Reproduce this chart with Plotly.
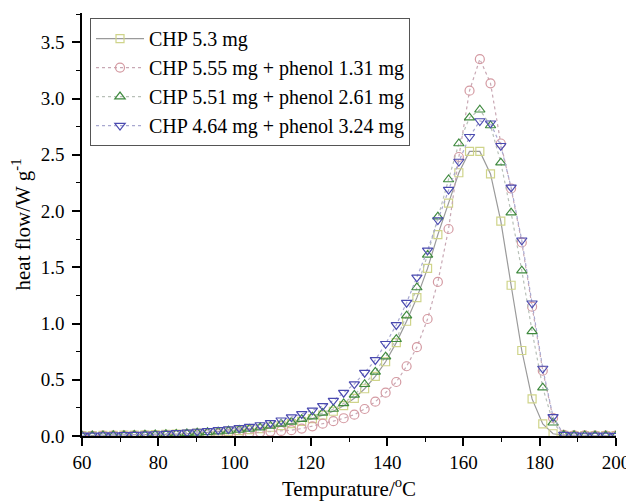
import plotly.graph_objects as go

temperature = [60.0, 62.7, 65.5, 68.2, 71.0, 73.7, 76.5, 79.2, 82.0, 84.7,
               87.5, 90.2, 92.9, 95.7, 98.4, 101.2, 103.9, 106.7, 109.4, 112.2,
               114.9, 117.6, 120.4, 123.1, 125.9, 128.6, 131.4, 134.1, 136.9, 139.6,
               142.4, 145.1, 147.8, 150.6, 153.3, 156.1, 158.8, 161.6, 164.3, 167.1,
               169.8, 172.5, 175.3, 178.0, 180.8, 183.5, 186.3, 189.0, 191.8, 194.5,
               197.3, 200.0]

chp_53 = [0.003, 0.004, 0.005, 0.006, 0.007, 0.008, 0.010, 0.012, 0.014, 0.017,
          0.020, 0.025, 0.030, 0.035, 0.041, 0.048, 0.056, 0.066, 0.078, 0.093,
          0.110, 0.130, 0.155, 0.185, 0.220, 0.270, 0.335, 0.420, 0.530, 0.660,
          0.830, 1.020, 1.230, 1.490, 1.790, 2.070, 2.340, 2.530, 2.530, 2.330,
          1.910, 1.340, 0.760, 0.330, 0.107, 0.020, 0.005, 0.004, 0.004, 0.003,
          0.003, 0.003]

chp_555_phenol_131 = [0.002, 0.002, 0.003, 0.003, 0.004, 0.004, 0.005, 0.006, 0.007, 0.008,
                      0.010, 0.012, 0.014, 0.017, 0.020, 0.024, 0.028, 0.033, 0.039, 0.045,
                      0.052, 0.066, 0.086, 0.110, 0.132, 0.158, 0.190, 0.240, 0.305, 0.385,
                      0.480, 0.620, 0.790, 1.040, 1.370, 1.840, 2.480, 3.070, 3.350, 3.135,
                      2.600, 2.200, 1.720, 1.150, 0.580, 0.160, 0.010, 0.006, 0.005, 0.004,
                      0.004, 0.003]

chp_551_phenol_261 = [0.003, 0.004, 0.005, 0.006, 0.007, 0.009, 0.011, 0.013, 0.016, 0.019,
                      0.023, 0.028, 0.033, 0.039, 0.046, 0.054, 0.063, 0.075, 0.090, 0.108,
                      0.125, 0.150, 0.172, 0.205, 0.240, 0.290, 0.365, 0.460, 0.570, 0.705,
                      0.860, 1.070, 1.320, 1.610, 1.950, 2.280, 2.600, 2.830, 2.900, 2.760,
                      2.430, 1.985, 1.470, 0.930, 0.430, 0.118, 0.010, 0.006, 0.005, 0.004,
                      0.004, 0.003]

chp_464_phenol_324 = [0.005, 0.006, 0.007, 0.008, 0.010, 0.012, 0.015, 0.018, 0.022, 0.027,
                      0.033, 0.040, 0.046, 0.054, 0.062, 0.072, 0.084, 0.098, 0.116, 0.140,
                      0.168, 0.196, 0.228, 0.268, 0.315, 0.385, 0.462, 0.563, 0.676, 0.820,
                      0.987, 1.185, 1.410, 1.650, 1.920, 2.190, 2.440, 2.660, 2.800, 2.780,
                      2.580, 2.210, 1.740, 1.180, 0.600, 0.170, 0.012, 0.008, 0.006, 0.005,
                      0.005, 0.004]

series_names = ["CHP 5.3 mg",
                "CHP 5.55 mg + phenol 1.31 mg",
                "CHP 5.51 mg + phenol 2.61 mg",
                "CHP 4.64 mg + phenol 3.24 mg"]

x_tick_values = [60, 80, 100, 120, 140, 160, 180, 200]
y_tick_values = [0.0, 0.5, 1.0, 1.5, 2.0, 2.5, 3.0, 3.5]

font_family = "Liberation Serif, Times New Roman, serif"

styles = [
    dict(symbol="square-open", mcolor="#cfd48a", lcolor="#9a9a9a", dash="solid", size=8),
    dict(symbol="circle-open", mcolor="#d49aa2", lcolor="#c8a8b4", dash="dot", size=9),
    dict(symbol="triangle-up-open", mcolor="#3f8a3f", lcolor="#b8c0b8", dash="dot", size=9),
    dict(symbol="triangle-down-open", mcolor="#4a4ab0", lcolor="#a8a8d0", dash="dot", size=9),
]

fig = go.Figure()
for name, ys, st in zip(series_names,
                        [chp_53, chp_555_phenol_131, chp_551_phenol_261, chp_464_phenol_324],
                        styles):
    fig.add_trace(go.Scatter(
        x=temperature, y=ys, name=name, mode="lines+markers",
        line=dict(color=st["lcolor"], width=1.2, dash=st["dash"]),
        marker=dict(symbol=st["symbol"], size=st["size"], color=st["mcolor"],
                    line=dict(width=1.2, color=st["mcolor"])),
    ))

# page body has an 8px margin, so the figure is sized/offset to compensate
fig.update_layout(
    width=626, height=495,
    margin=dict(l=74, r=18, t=5, b=67),
    paper_bgcolor="white", plot_bgcolor="white",
    font=dict(family=font_family, size=18, color="black"),
    showlegend=True,
    legend=dict(
        x=0.015, y=0.988, xanchor="left", yanchor="top",
        bgcolor="white", bordercolor="#555555", borderwidth=1,
        font=dict(family=font_family, size=20, color="black"),
        tracegroupgap=0, itemwidth=48,
    ),
)

fig.update_xaxes(
    range=[60, 200], tickvals=x_tick_values, automargin=False,
    showline=True, linecolor="black", linewidth=1.5, mirror=False,
    ticks="outside", ticklen=8, tickwidth=1.5, tickcolor="black",
    showgrid=False, zeroline=False,
    minor=dict(ticks="outside", ticklen=4, tickwidth=1.2, dtick=10, tickcolor="black", showgrid=False),
    title=dict(text="Tempurature/<sup>o</sup>C", font=dict(family=font_family, size=21), standoff=10),
    tickfont=dict(family=font_family, size=19),
)
fig.update_yaxes(
    range=[0, 3.76], tickvals=y_tick_values, tickformat=".1f", automargin=False,
    showline=True, linecolor="black", linewidth=1.5, mirror=False,
    ticks="outside", ticklen=8, tickwidth=1.5, tickcolor="black",
    showgrid=False, zeroline=False, ticklabelstandoff=4,
    minor=dict(ticks="outside", ticklen=4, tickwidth=1.2, dtick=0.25, tickcolor="black", showgrid=False),
    title=dict(text="heat flow/W g<sup>-1</sup>", font=dict(family=font_family, size=21), standoff=10),
    tickfont=dict(family=font_family, size=19),
)

fig.write_html("out.html")
